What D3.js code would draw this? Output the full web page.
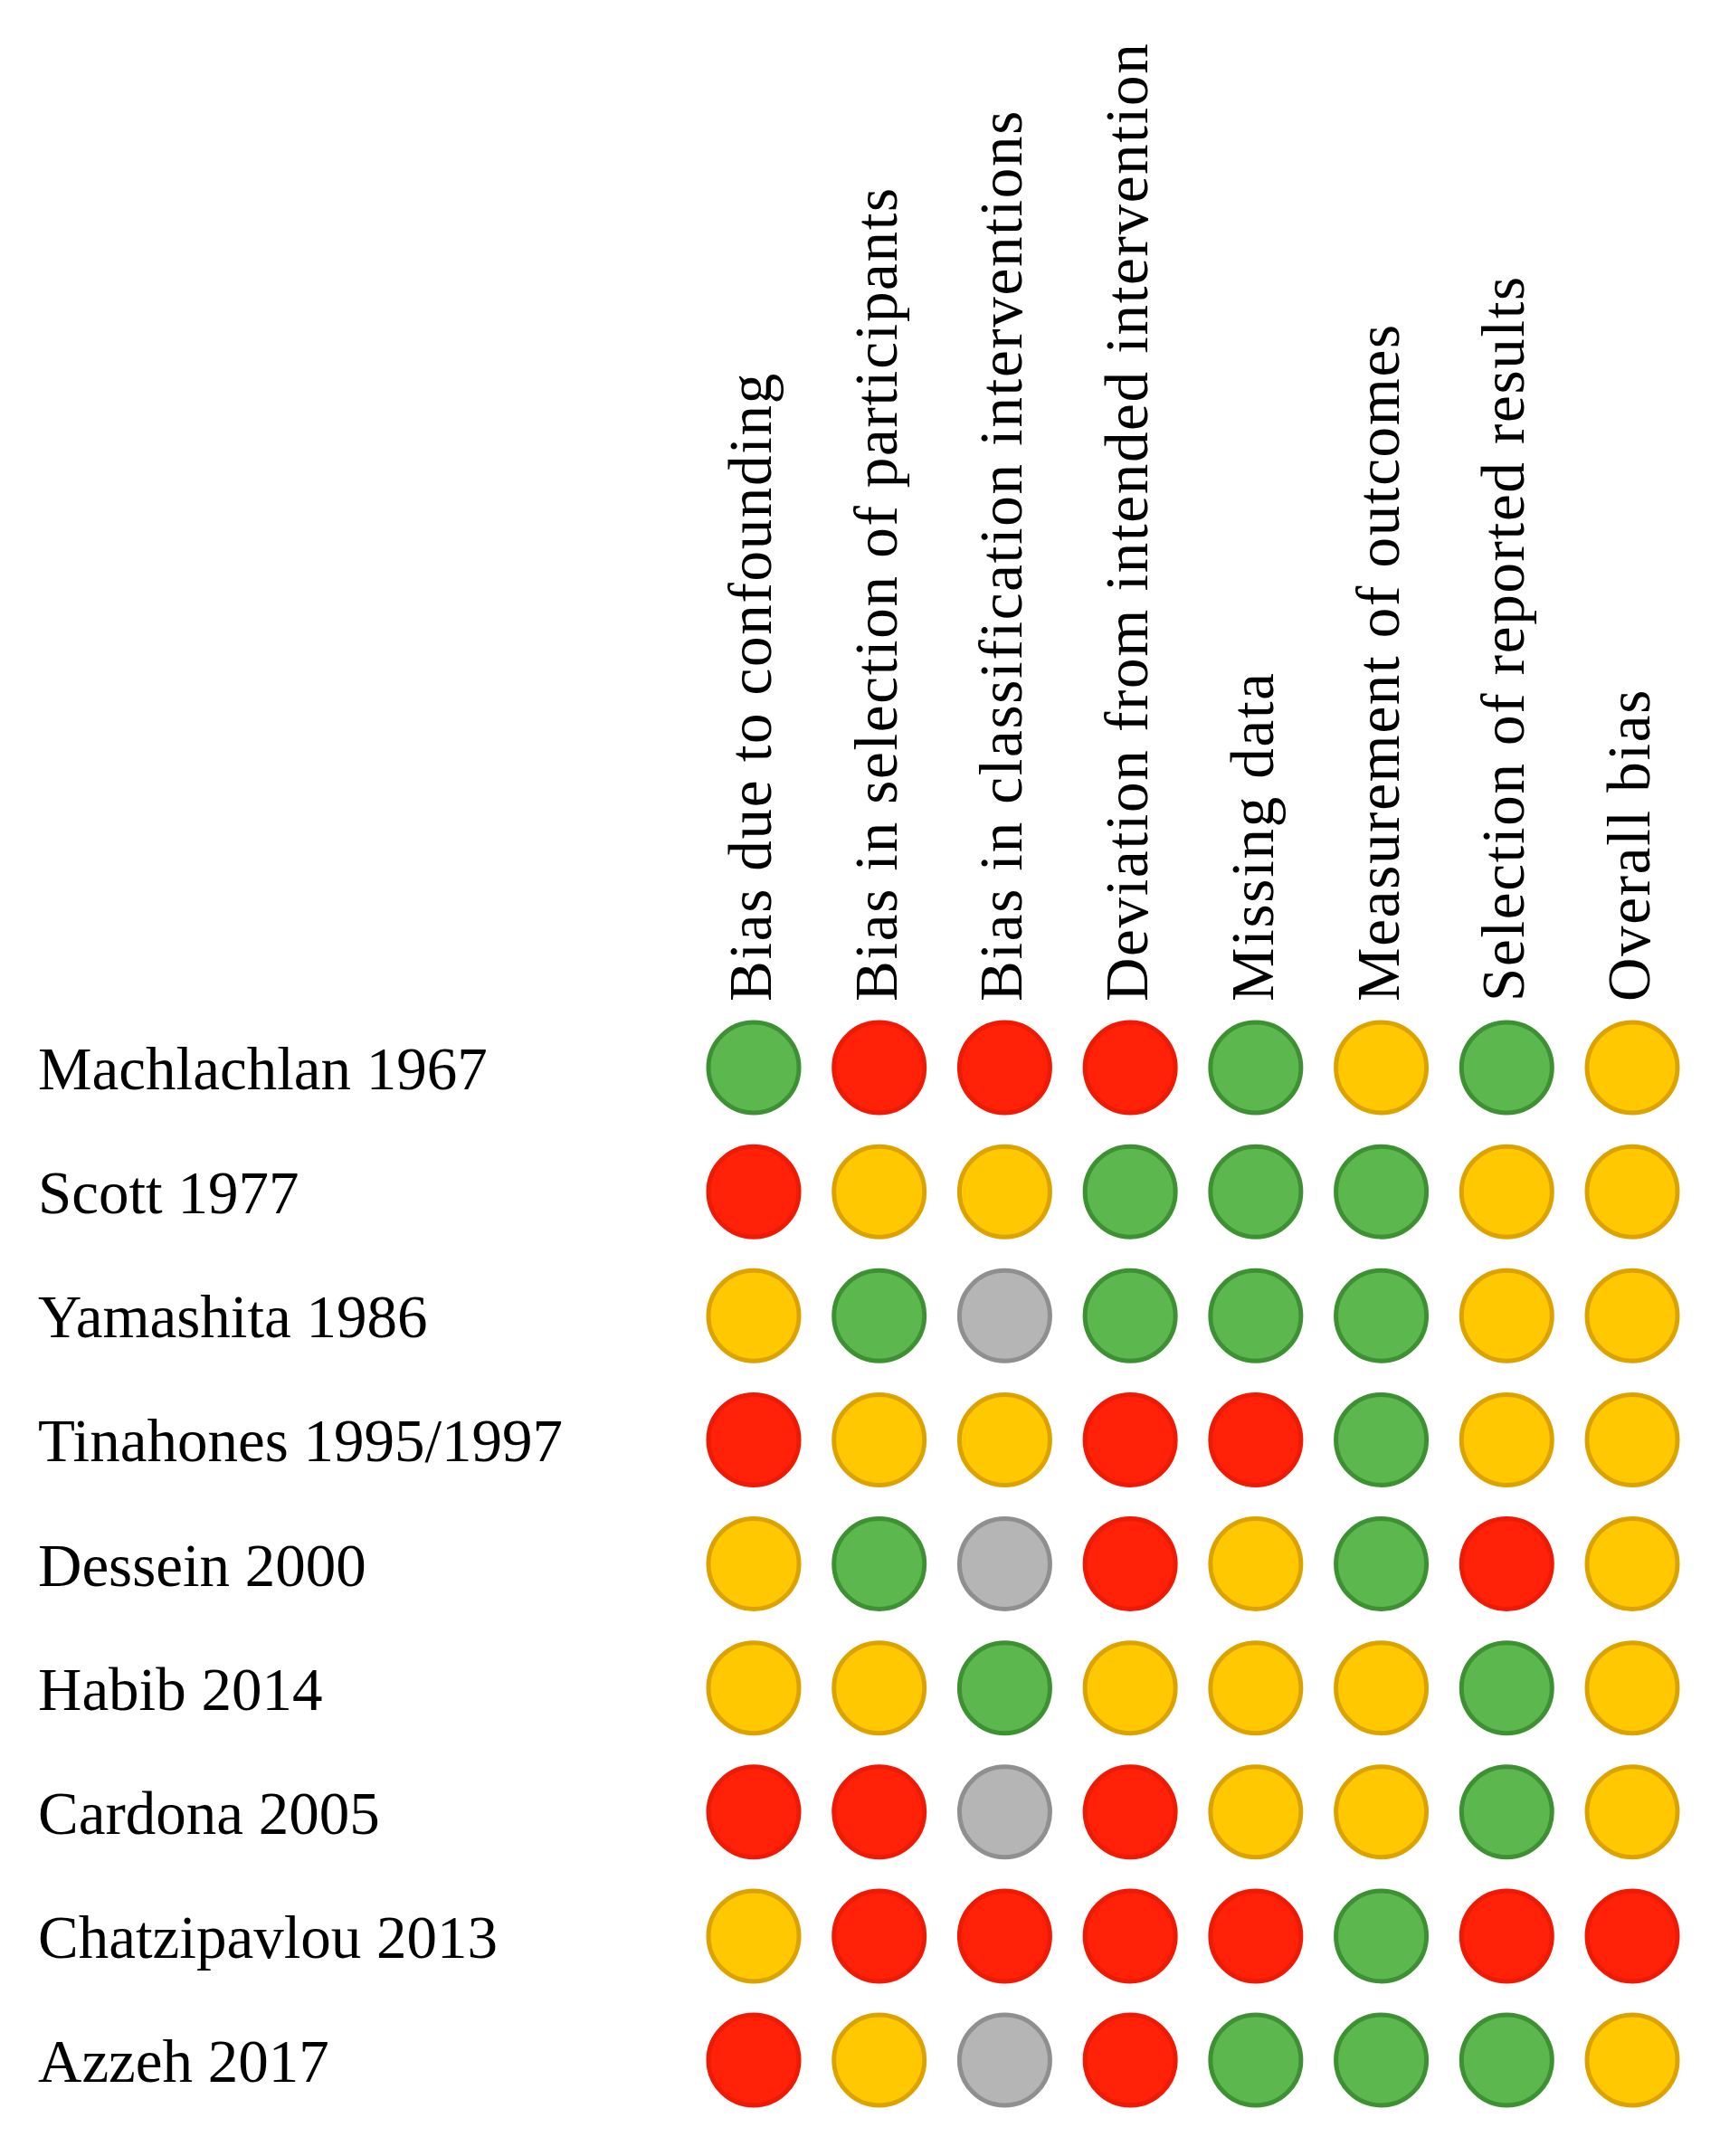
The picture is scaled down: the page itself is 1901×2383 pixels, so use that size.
<!DOCTYPE html>
<html>
<head>
<meta charset="utf-8">
<script src="https://cdn.jsdelivr.net/npm/d3@7"></script>
<style>
  body { margin: 0; background: #fff; }
  text { font-family: "Liberation Serif", "Times New Roman", serif; fill: #000; }
</style>
</head>
<body>
<svg id="chart" width="1901" height="2383"></svg>
<script>
// domains (columns)
var domains = [
    "Bias due to confounding",
    "Bias in selection of participants",
    "Bias in classification interventions",
    "Deviation from intended intervention",
    "Missing data",
    "Measurement of outcomes",
    "Selection of reported results",
    "Overall bias"
];

// studies (rows)
var studies = [
    "Machlachlan 1967",
    "Scott 1977",
    "Yamashita 1986",
    "Tinahones 1995/1997",
    "Dessein 2000",
    "Habib 2014",
    "Cardona 2005",
    "Chatzipavlou 2013",
    "Azzeh 2017"
];

// judgements: L = low, M = moderate, S = serious, N = no information
var judgements = [
    ["L", "S", "S", "S", "L", "M", "L", "M"],
    ["S", "M", "M", "L", "L", "L", "M", "M"],
    ["M", "L", "N", "L", "L", "L", "M", "M"],
    ["S", "M", "M", "S", "S", "L", "M", "M"],
    ["M", "L", "N", "S", "M", "L", "S", "M"],
    ["M", "M", "L", "M", "M", "M", "L", "M"],
    ["S", "S", "N", "S", "M", "M", "L", "M"],
    ["M", "S", "S", "S", "S", "L", "S", "S"],
    ["S", "M", "N", "S", "L", "L", "L", "M"]
];

var levels = ["L", "M", "S", "N"];

var svg = d3.select("#chart");

var x = d3.scalePoint().domain(domains).range([833, 1804]);
var y = d3.scalePoint().domain(studies).range([1180, 2277]);

var fill = d3.scaleOrdinal().domain(levels)
    .range(["#5cb74e", "#ffc800", "#ff2108", "#b5b5b5"]);
var stroke = d3.scaleOrdinal().domain(levels)
    .range(["#3d9132", "#dca300", "#ee1a04", "#8f8f8f"]);

var fontSize = 67;
var headerBase = 1107;

// column headers, rotated
svg.append("g")
    .attr("class", "headers")
  .selectAll("text")
    .data(domains)
  .enter()
    .append("text")
    .attr("transform", function(d) {
        return "translate(" + (x(d) + 19) + "," + headerBase + ") rotate(-90)";
    })
    .attr("font-size", fontSize)
    .attr("letter-spacing", 1.7)
    .text(function(d) { return d; });

// row labels
svg.append("g")
    .attr("class", "labels")
  .selectAll("text")
    .data(studies)
  .enter()
    .append("text")
    .attr("x", 42)
    .attr("y", function(d) { return y(d) + 24; })
    .attr("font-size", fontSize)
    .text(function(d) { return d; });

// rows of dots
var rows = svg.selectAll(".row")
    .data(judgements)
  .enter()
    .append("g")
    .attr("class", "row")
    .attr("transform", function(d, i) {
        return "translate(0," + y(studies[i]) + ")";
    });

rows.selectAll("circle")
    .data(function(d) { return d; })
  .enter()
    .append("circle")
    .attr("cx", function(d, i) { return x(domains[i]); })
    .attr("cy", 0)
    .attr("r", 50)
    .attr("fill", function(d) { return fill(d); })
    .attr("stroke", function(d) { return stroke(d); })
    .attr("stroke-width", 5);
</script>
</body>
</html>
